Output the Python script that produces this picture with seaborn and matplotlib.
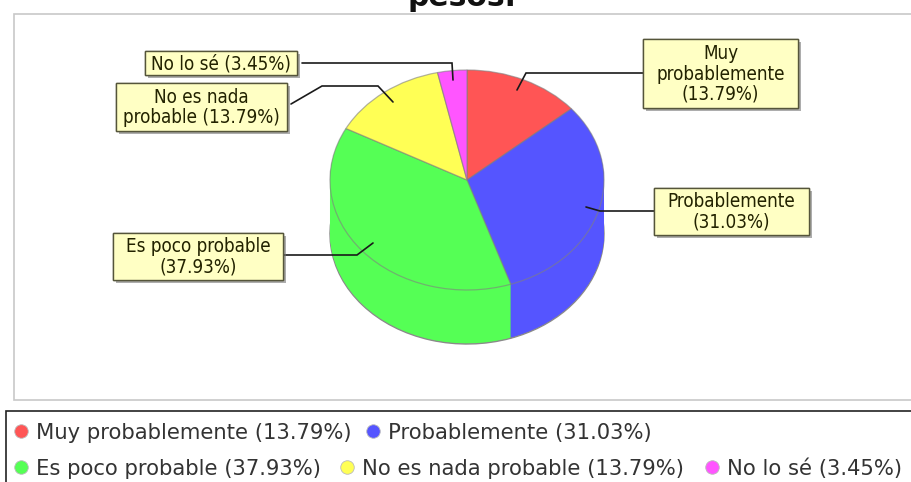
import matplotlib
matplotlib.use("Agg")
import matplotlib.pyplot as plt
import matplotlib.patheffects as pe
from matplotlib.patches import Rectangle
import seaborn as sns

categories = ["Muy probablemente", "Probablemente", "Es poco probable", "No es nada probable", "No lo sé"]
shares = [13.79, 31.03, 37.93, 13.79, 3.45]
callouts = ["Muy\nprobablemente\n(13.79%)", "Probablemente\n(31.03%)", "Es poco probable\n(37.93%)",
            "No es nada\nprobable (13.79%)", "No lo sé (3.45%)"]
colors = ["#ff5555", "#5555ff", "#55ff55", "#ffff55", "#ff55ff"]
title = "pesos."

W, H = 912, 482
CX, CY, RX, RY, DEPTH = 467, 180, 137, 110, 54

sns.set_theme(style="white")
plt.rcParams["font.family"] = ["DejaVu Sans"]

fig = plt.figure(figsize=(W / 100, H / 100), dpi=100, facecolor="white")

# overlay in pixel coordinates, for frames, callouts and legend
bg = fig.add_axes([0, 0, 1, 1], zorder=0)
bg.set_xlim(0, W)
bg.set_ylim(H, 0)
bg.axis("off")
bg.add_patch(Rectangle((14, 14), 910, 386, fc="white", ec="#c8c8c8", lw=1.2))
bg.add_patch(Rectangle((6.5, 411), 920, 85, fc="white", ec="#222222", lw=1.2))
bg.text(462, 6, title, ha="center", va="baseline", fontsize=21.5, fontweight="bold", color="#111111")

# pie axes: x -1..1 spans the ellipse, y extends down for the extruded side
left, right = CX - RX, CX + RX
top, bottom = CY - RY, CY + RY + DEPTH
pie_ax = fig.add_axes([left / W, 1 - bottom / H, (right - left) / W, (bottom - top) / H], zorder=1)
pie_ax.pie(shares, colors=colors, startangle=90, counterclock=False, center=(0, -DEPTH / RY), radius=1,
           frame=True, wedgeprops={"edgecolor": "#8a8a8a", "linewidth": 1.0})
for step in range(DEPTH - 1, 0, -1):
    pie_ax.pie(shares, colors=colors, startangle=90, counterclock=False,
               center=(0, -step / RY), radius=1, frame=True,
               wedgeprops={"edgecolor": "none", "linewidth": 0})
pie_ax.pie(shares, colors=colors, startangle=90, counterclock=False, center=(0, 0), radius=1,
           frame=True, wedgeprops={"edgecolor": (0.5, 0.5, 0.5, 0.6), "linewidth": 0.9})
pie_ax.set_aspect("auto")
pie_ax.set_xlim(-1, 1)
pie_ax.set_ylim(-1 - DEPTH / RY, 1)
pie_ax.axis("off")
for patch in pie_ax.patches:
    patch.set_clip_on(False)

# callouts and leader lines
fg = fig.add_axes([0, 0, 1, 1], zorder=2)
fg.set_xlim(0, W)
fg.set_ylim(H, 0)
fg.axis("off")
fg.patch.set_alpha(0)

boxes = [(643, 39, 155, 69), (654, 188, 155, 47), (113, 233, 170, 47), (116, 83, 171, 48), (145, 51, 152, 24)]
leaders = [
    [(643, 73), (526, 73), (517, 90)],
    [(654, 211), (600, 211), (586, 207)],
    [(284, 255), (357, 255), (373, 243)],
    [(291, 104), (322, 86), (378, 86), (393, 102)],
    [(302, 63), (452, 63), (453, 80)],
]
for path in leaders:
    fg.plot([p[0] for p in path], [p[1] for p in path], color="#1a1a1a", lw=1.2, solid_joinstyle="miter")
for (x, y, w, h), label in zip(boxes, callouts):
    fg.add_patch(Rectangle((x, y), w, h, fc="#ffffc4", ec="#55553a", lw=1.0, zorder=3,
                           path_effects=[pe.withSimplePatchShadow(offset=(2, -2), shadow_rgbFace="#777777", alpha=0.6),
                                         pe.Normal()]))
    fg.text(x + w / 2, y + h / 2 + 0.5, label, ha="center", va="center", fontsize=13.5, color="#222200",
            family="DejaVu Sans", fontstretch="condensed", linespacing=1.08, zorder=4)

# legend rows
legend_rows = [
    [(0, 21), (1, 373)],
    [(2, 21), (3, 347), (4, 712)],
]
for row, y in zip(legend_rows, (431, 467)):
    for idx, x in row:
        fg.scatter([x], [y], s=95, color=colors[idx], edgecolors="#bbbbbb", linewidths=0.6, zorder=3)
        fg.text(x + 15, y, f"{categories[idx]} ({shares[idx]:.2f}%)", va="center_baseline", ha="left",
                fontsize=15.2, color="#333333")

fig.savefig("out.png", dpi=100)
